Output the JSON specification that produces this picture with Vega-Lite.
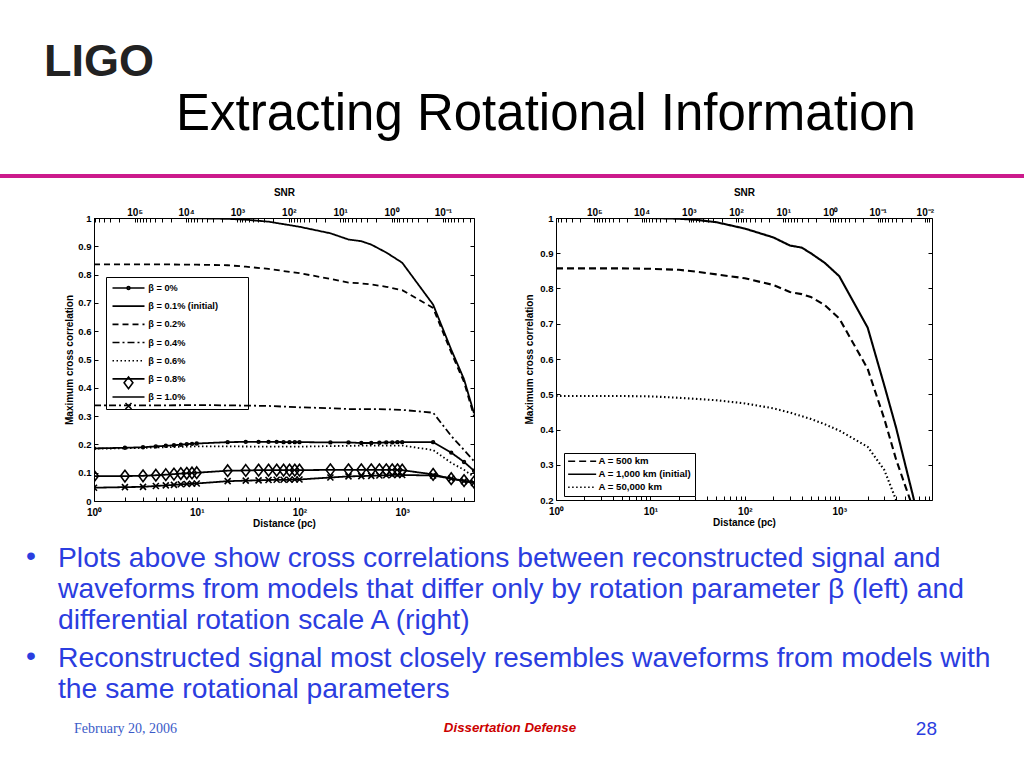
{
  "$schema": "https://vega.github.io/schema/vega-lite/v6.json",
  "background": "white",
  "padding": {"left": 0, "top": 40, "right": 0, "bottom": 30},
  "config": {"view": {"stroke": null}, "font": "Liberation Sans"},
  "title": {"text": "LIGO", "anchor": "start", "dx": 44, "fontSize": 45, "fontWeight": "bold", "font": "Liberation Sans", "color": "#222222", "offset": 4},
  "datasets": {
    "left": [
      {"beta": "β = 0%", "distance": 1, "corr": 0.186}, {"beta": "β = 0%", "distance": 2, "corr": 0.188}, {"beta": "β = 0%", "distance": 3, "corr": 0.19}, {"beta": "β = 0%", "distance": 4, "corr": 0.193}, {"beta": "β = 0%", "distance": 5, "corr": 0.195}, {"beta": "β = 0%", "distance": 6, "corr": 0.197}, {"beta": "β = 0%", "distance": 7, "corr": 0.199}, {"beta": "β = 0%", "distance": 8, "corr": 0.201}, {"beta": "β = 0%", "distance": 9, "corr": 0.202}, {"beta": "β = 0%", "distance": 10, "corr": 0.203},
      {"beta": "β = 0%", "distance": 20, "corr": 0.208}, {"beta": "β = 0%", "distance": 30, "corr": 0.209}, {"beta": "β = 0%", "distance": 40, "corr": 0.209}, {"beta": "β = 0%", "distance": 50, "corr": 0.209}, {"beta": "β = 0%", "distance": 60, "corr": 0.209}, {"beta": "β = 0%", "distance": 70, "corr": 0.208}, {"beta": "β = 0%", "distance": 80, "corr": 0.208}, {"beta": "β = 0%", "distance": 90, "corr": 0.208}, {"beta": "β = 0%", "distance": 100, "corr": 0.208},
      {"beta": "β = 0%", "distance": 200, "corr": 0.207}, {"beta": "β = 0%", "distance": 300, "corr": 0.207}, {"beta": "β = 0%", "distance": 400, "corr": 0.205}, {"beta": "β = 0%", "distance": 500, "corr": 0.205}, {"beta": "β = 0%", "distance": 600, "corr": 0.206}, {"beta": "β = 0%", "distance": 700, "corr": 0.207}, {"beta": "β = 0%", "distance": 800, "corr": 0.207}, {"beta": "β = 0%", "distance": 900, "corr": 0.208}, {"beta": "β = 0%", "distance": 1000, "corr": 0.208},
      {"beta": "β = 0%", "distance": 2000, "corr": 0.208}, {"beta": "β = 0%", "distance": 3000, "corr": 0.171}, {"beta": "β = 0%", "distance": 4000, "corr": 0.138}, {"beta": "β = 0%", "distance": 5000, "corr": 0.107},

      {"beta": "β = 0.1% (initial)", "distance": 1, "corr": 1.0}, {"beta": "β = 0.1% (initial)", "distance": 2, "corr": 1.0}, {"beta": "β = 0.1% (initial)", "distance": 5, "corr": 1.0}, {"beta": "β = 0.1% (initial)", "distance": 10, "corr": 0.999}, {"beta": "β = 0.1% (initial)", "distance": 20, "corr": 0.997}, {"beta": "β = 0.1% (initial)", "distance": 30, "corr": 0.994}, {"beta": "β = 0.1% (initial)", "distance": 50, "corr": 0.987}, {"beta": "β = 0.1% (initial)", "distance": 100, "corr": 0.969}, {"beta": "β = 0.1% (initial)", "distance": 200, "corr": 0.946}, {"beta": "β = 0.1% (initial)", "distance": 300, "corr": 0.924}, {"beta": "β = 0.1% (initial)", "distance": 400, "corr": 0.918}, {"beta": "β = 0.1% (initial)", "distance": 500, "corr": 0.906}, {"beta": "β = 0.1% (initial)", "distance": 700, "corr": 0.878}, {"beta": "β = 0.1% (initial)", "distance": 1000, "corr": 0.842}, {"beta": "β = 0.1% (initial)", "distance": 2000, "corr": 0.694}, {"beta": "β = 0.1% (initial)", "distance": 3000, "corr": 0.535}, {"beta": "β = 0.1% (initial)", "distance": 4000, "corr": 0.43}, {"beta": "β = 0.1% (initial)", "distance": 5000, "corr": 0.31},

      {"beta": "β = 0.2%", "distance": 1, "corr": 0.836}, {"beta": "β = 0.2%", "distance": 2, "corr": 0.836}, {"beta": "β = 0.2%", "distance": 5, "corr": 0.836}, {"beta": "β = 0.2%", "distance": 10, "corr": 0.835}, {"beta": "β = 0.2%", "distance": 20, "corr": 0.833}, {"beta": "β = 0.2%", "distance": 30, "corr": 0.828}, {"beta": "β = 0.2%", "distance": 50, "corr": 0.82}, {"beta": "β = 0.2%", "distance": 100, "corr": 0.805}, {"beta": "β = 0.2%", "distance": 200, "corr": 0.785}, {"beta": "β = 0.2%", "distance": 300, "corr": 0.772}, {"beta": "β = 0.2%", "distance": 400, "corr": 0.769}, {"beta": "β = 0.2%", "distance": 500, "corr": 0.765}, {"beta": "β = 0.2%", "distance": 700, "corr": 0.757}, {"beta": "β = 0.2%", "distance": 1000, "corr": 0.745}, {"beta": "β = 0.2%", "distance": 2000, "corr": 0.682}, {"beta": "β = 0.2%", "distance": 3000, "corr": 0.525}, {"beta": "β = 0.2%", "distance": 4000, "corr": 0.42}, {"beta": "β = 0.2%", "distance": 5000, "corr": 0.3},

      {"beta": "β = 0.4%", "distance": 1, "corr": 0.338}, {"beta": "β = 0.4%", "distance": 2, "corr": 0.338}, {"beta": "β = 0.4%", "distance": 5, "corr": 0.338}, {"beta": "β = 0.4%", "distance": 10, "corr": 0.339}, {"beta": "β = 0.4%", "distance": 20, "corr": 0.338}, {"beta": "β = 0.4%", "distance": 50, "corr": 0.336}, {"beta": "β = 0.4%", "distance": 100, "corr": 0.331}, {"beta": "β = 0.4%", "distance": 200, "corr": 0.328}, {"beta": "β = 0.4%", "distance": 300, "corr": 0.325}, {"beta": "β = 0.4%", "distance": 500, "corr": 0.325}, {"beta": "β = 0.4%", "distance": 700, "corr": 0.324}, {"beta": "β = 0.4%", "distance": 1000, "corr": 0.322}, {"beta": "β = 0.4%", "distance": 2000, "corr": 0.312}, {"beta": "β = 0.4%", "distance": 3000, "corr": 0.23}, {"beta": "β = 0.4%", "distance": 4000, "corr": 0.18}, {"beta": "β = 0.4%", "distance": 5000, "corr": 0.141},

      {"beta": "β = 0.6%", "distance": 1, "corr": 0.185}, {"beta": "β = 0.6%", "distance": 2, "corr": 0.186}, {"beta": "β = 0.6%", "distance": 5, "corr": 0.19}, {"beta": "β = 0.6%", "distance": 10, "corr": 0.193}, {"beta": "β = 0.6%", "distance": 20, "corr": 0.193}, {"beta": "β = 0.6%", "distance": 50, "corr": 0.192}, {"beta": "β = 0.6%", "distance": 100, "corr": 0.192}, {"beta": "β = 0.6%", "distance": 200, "corr": 0.194}, {"beta": "β = 0.6%", "distance": 300, "corr": 0.195}, {"beta": "β = 0.6%", "distance": 500, "corr": 0.196}, {"beta": "β = 0.6%", "distance": 700, "corr": 0.196}, {"beta": "β = 0.6%", "distance": 1000, "corr": 0.196}, {"beta": "β = 0.6%", "distance": 2000, "corr": 0.18}, {"beta": "β = 0.6%", "distance": 3000, "corr": 0.135}, {"beta": "β = 0.6%", "distance": 4000, "corr": 0.11}, {"beta": "β = 0.6%", "distance": 5000, "corr": 0.085},

      {"beta": "β = 0.8%", "distance": 1, "corr": 0.088}, {"beta": "β = 0.8%", "distance": 2, "corr": 0.088}, {"beta": "β = 0.8%", "distance": 3, "corr": 0.089}, {"beta": "β = 0.8%", "distance": 4, "corr": 0.091}, {"beta": "β = 0.8%", "distance": 5, "corr": 0.093}, {"beta": "β = 0.8%", "distance": 6, "corr": 0.095}, {"beta": "β = 0.8%", "distance": 7, "corr": 0.097}, {"beta": "β = 0.8%", "distance": 8, "corr": 0.098}, {"beta": "β = 0.8%", "distance": 9, "corr": 0.099}, {"beta": "β = 0.8%", "distance": 10, "corr": 0.1},
      {"beta": "β = 0.8%", "distance": 20, "corr": 0.107}, {"beta": "β = 0.8%", "distance": 30, "corr": 0.108}, {"beta": "β = 0.8%", "distance": 40, "corr": 0.109}, {"beta": "β = 0.8%", "distance": 50, "corr": 0.109}, {"beta": "β = 0.8%", "distance": 60, "corr": 0.109}, {"beta": "β = 0.8%", "distance": 70, "corr": 0.109}, {"beta": "β = 0.8%", "distance": 80, "corr": 0.109}, {"beta": "β = 0.8%", "distance": 90, "corr": 0.109}, {"beta": "β = 0.8%", "distance": 100, "corr": 0.109},
      {"beta": "β = 0.8%", "distance": 200, "corr": 0.11}, {"beta": "β = 0.8%", "distance": 300, "corr": 0.11}, {"beta": "β = 0.8%", "distance": 400, "corr": 0.11}, {"beta": "β = 0.8%", "distance": 500, "corr": 0.11}, {"beta": "β = 0.8%", "distance": 600, "corr": 0.11}, {"beta": "β = 0.8%", "distance": 700, "corr": 0.11}, {"beta": "β = 0.8%", "distance": 800, "corr": 0.11}, {"beta": "β = 0.8%", "distance": 900, "corr": 0.11}, {"beta": "β = 0.8%", "distance": 1000, "corr": 0.109},
      {"beta": "β = 0.8%", "distance": 2000, "corr": 0.094}, {"beta": "β = 0.8%", "distance": 3000, "corr": 0.079}, {"beta": "β = 0.8%", "distance": 4000, "corr": 0.072}, {"beta": "β = 0.8%", "distance": 5000, "corr": 0.067},

      {"beta": "β = 1.0%", "distance": 1, "corr": 0.047}, {"beta": "β = 1.0%", "distance": 2, "corr": 0.049}, {"beta": "β = 1.0%", "distance": 3, "corr": 0.05}, {"beta": "β = 1.0%", "distance": 4, "corr": 0.053}, {"beta": "β = 1.0%", "distance": 5, "corr": 0.055}, {"beta": "β = 1.0%", "distance": 6, "corr": 0.057}, {"beta": "β = 1.0%", "distance": 7, "corr": 0.059}, {"beta": "β = 1.0%", "distance": 8, "corr": 0.06}, {"beta": "β = 1.0%", "distance": 9, "corr": 0.061}, {"beta": "β = 1.0%", "distance": 10, "corr": 0.062},
      {"beta": "β = 1.0%", "distance": 20, "corr": 0.07}, {"beta": "β = 1.0%", "distance": 30, "corr": 0.072}, {"beta": "β = 1.0%", "distance": 40, "corr": 0.073}, {"beta": "β = 1.0%", "distance": 50, "corr": 0.074}, {"beta": "β = 1.0%", "distance": 60, "corr": 0.075}, {"beta": "β = 1.0%", "distance": 70, "corr": 0.075}, {"beta": "β = 1.0%", "distance": 80, "corr": 0.075}, {"beta": "β = 1.0%", "distance": 90, "corr": 0.076}, {"beta": "β = 1.0%", "distance": 100, "corr": 0.076},
      {"beta": "β = 1.0%", "distance": 200, "corr": 0.083}, {"beta": "β = 1.0%", "distance": 300, "corr": 0.087}, {"beta": "β = 1.0%", "distance": 400, "corr": 0.088}, {"beta": "β = 1.0%", "distance": 500, "corr": 0.089}, {"beta": "β = 1.0%", "distance": 600, "corr": 0.09}, {"beta": "β = 1.0%", "distance": 700, "corr": 0.091}, {"beta": "β = 1.0%", "distance": 800, "corr": 0.092}, {"beta": "β = 1.0%", "distance": 900, "corr": 0.092}, {"beta": "β = 1.0%", "distance": 1000, "corr": 0.092},
      {"beta": "β = 1.0%", "distance": 2000, "corr": 0.09}, {"beta": "β = 1.0%", "distance": 3000, "corr": 0.079}, {"beta": "β = 1.0%", "distance": 4000, "corr": 0.07}, {"beta": "β = 1.0%", "distance": 5000, "corr": 0.064}
    ],
    "right": [
      {"model": "A = 500 km", "distance": 1, "corr": 0.857}, {"model": "A = 500 km", "distance": 2, "corr": 0.857}, {"model": "A = 500 km", "distance": 5, "corr": 0.857}, {"model": "A = 500 km", "distance": 10, "corr": 0.856}, {"model": "A = 500 km", "distance": 20, "corr": 0.853}, {"model": "A = 500 km", "distance": 30, "corr": 0.848}, {"model": "A = 500 km", "distance": 50, "corr": 0.84}, {"model": "A = 500 km", "distance": 100, "corr": 0.829}, {"model": "A = 500 km", "distance": 200, "corr": 0.81}, {"model": "A = 500 km", "distance": 300, "corr": 0.79}, {"model": "A = 500 km", "distance": 400, "corr": 0.784}, {"model": "A = 500 km", "distance": 500, "corr": 0.776}, {"model": "A = 500 km", "distance": 700, "corr": 0.753}, {"model": "A = 500 km", "distance": 1000, "corr": 0.715}, {"model": "A = 500 km", "distance": 2000, "corr": 0.572}, {"model": "A = 500 km", "distance": 3000, "corr": 0.43}, {"model": "A = 500 km", "distance": 4000, "corr": 0.315}, {"model": "A = 500 km", "distance": 5000, "corr": 0.24}, {"model": "A = 500 km", "distance": 6000, "corr": 0.18},
      {"model": "A = 1,000 km (initial)", "distance": 1, "corr": 1.0}, {"model": "A = 1,000 km (initial)", "distance": 2, "corr": 1.0}, {"model": "A = 1,000 km (initial)", "distance": 5, "corr": 1.0}, {"model": "A = 1,000 km (initial)", "distance": 10, "corr": 1.0}, {"model": "A = 1,000 km (initial)", "distance": 20, "corr": 0.998}, {"model": "A = 1,000 km (initial)", "distance": 30, "corr": 0.995}, {"model": "A = 1,000 km (initial)", "distance": 50, "corr": 0.988}, {"model": "A = 1,000 km (initial)", "distance": 100, "corr": 0.97}, {"model": "A = 1,000 km (initial)", "distance": 200, "corr": 0.945}, {"model": "A = 1,000 km (initial)", "distance": 300, "corr": 0.922}, {"model": "A = 1,000 km (initial)", "distance": 400, "corr": 0.916}, {"model": "A = 1,000 km (initial)", "distance": 500, "corr": 0.9}, {"model": "A = 1,000 km (initial)", "distance": 700, "corr": 0.873}, {"model": "A = 1,000 km (initial)", "distance": 1000, "corr": 0.835}, {"model": "A = 1,000 km (initial)", "distance": 2000, "corr": 0.689}, {"model": "A = 1,000 km (initial)", "distance": 3000, "corr": 0.525}, {"model": "A = 1,000 km (initial)", "distance": 4000, "corr": 0.405}, {"model": "A = 1,000 km (initial)", "distance": 5000, "corr": 0.3}, {"model": "A = 1,000 km (initial)", "distance": 6000, "corr": 0.215}, {"model": "A = 1,000 km (initial)", "distance": 7000, "corr": 0.14},
      {"model": "A = 50,000 km", "distance": 1, "corr": 0.495}, {"model": "A = 50,000 km", "distance": 2, "corr": 0.495}, {"model": "A = 50,000 km", "distance": 5, "corr": 0.495}, {"model": "A = 50,000 km", "distance": 10, "corr": 0.494}, {"model": "A = 50,000 km", "distance": 20, "corr": 0.49}, {"model": "A = 50,000 km", "distance": 50, "corr": 0.483}, {"model": "A = 50,000 km", "distance": 100, "corr": 0.474}, {"model": "A = 50,000 km", "distance": 200, "corr": 0.46}, {"model": "A = 50,000 km", "distance": 300, "corr": 0.448}, {"model": "A = 50,000 km", "distance": 500, "corr": 0.43}, {"model": "A = 50,000 km", "distance": 700, "corr": 0.415}, {"model": "A = 50,000 km", "distance": 1000, "corr": 0.397}, {"model": "A = 50,000 km", "distance": 2000, "corr": 0.351}, {"model": "A = 50,000 km", "distance": 3000, "corr": 0.285}, {"model": "A = 50,000 km", "distance": 4000, "corr": 0.2}, {"model": "A = 50,000 km", "distance": 5000, "corr": 0.14}
    ]
  },
  "spacing": 5,
  "vconcat": [
    {
      "width": 1024, "height": 4,
      "view": {"fill": "#cc1a8c", "stroke": null},
      "title": {"text": "Extracting Rotational Information", "anchor": "start", "dx": 176, "fontSize": 51, "fontWeight": "normal", "font": "Liberation Sans", "color": "black", "offset": 29},
      "data": {"values": [{}]},
      "mark": {"type": "text", "text": " "}
    },
    {
      "spacing": 46,
      "resolve": {"scale": {"strokeDash": "independent", "shape": "independent"}, "legend": {"strokeDash": "independent", "shape": "independent"}},
      "hconcat": [
        {
          "width": 17, "height": 1,
          "data": {"values": [{}]},
          "mark": {"type": "text", "text": " "}
        },
        {
          "width": 380, "height": 283,
          "view": {"stroke": "black", "strokeWidth": 1},
          "data": {"name": "left"},
          "resolve": {"scale": {"x": "independent", "y": "independent"}},
          "layer": [
            {
              "mark": {"type": "line", "clip": true, "color": "black", "strokeWidth": 1.8},
              "encoding": {
                "x": {"field": "distance", "type": "quantitative", "scale": {"type": "log", "domain": [1, 5000], "nice": false},
                  "axis": {"orient": "bottom", "title": "Distance (pc)", "values": [1,2,3,4,5,6,7,8,9,10,20,30,40,50,60,70,80,90,100,200,300,400,500,600,700,800,900,1000,2000,3000,4000,5000],
                    "labelExpr": "abs(log(datum.value)/LN10 - round(log(datum.value)/LN10)) < 0.001 ? '10' + ['⁰','¹','²','³','⁴'][round(log(datum.value)/LN10)] : ''",
                    "tickSize": -4, "tickColor": "black", "labelPadding": 10, "labelFontSize": 10, "labelFontWeight": "bold", "labelColor": "black", "labelOverlap": false, "labelFlush": false, "domain": false, "grid": false, "titleFontSize": 10, "titleFontWeight": "bold", "titleColor": "black", "titlePadding": 1}},
                "y": {"field": "corr", "type": "quantitative", "scale": {"domain": [0, 1], "nice": false, "zero": false},
                  "axis": {"orient": "left", "title": "Maximum cross correlation", "values": [0,0.1,0.2,0.3,0.4,0.5,0.6,0.7,0.8,0.9,1], "format": "~g",
                    "tickSize": -4, "tickColor": "black", "labelPadding": 7, "labelFontSize": 9.5, "labelFontWeight": "bold", "labelColor": "black", "labelOverlap": false, "domain": false, "grid": false,
                    "minExtent": 30, "maxExtent": 30, "titleX": -25, "titleBaseline": "middle", "titlePadding": 0, "titleFontSize": 10, "titleFontWeight": "bold", "titleColor": "black"}},
                "strokeDash": {"field": "beta", "type": "nominal",
                  "scale": {"domain": ["β = 0%", "β = 0.1% (initial)", "β = 0.2%", "β = 0.4%", "β = 0.6%", "β = 0.8%", "β = 1.0%"], "range": [[1,0],[1,0],[6,4],[7,3,2,3],[1.5,2.5],[1,0],[1,0]]},
                  "legend": {"title": "MMM", "titleOrient": "right", "titleColor": "transparent", "titleFontSize": 9.5, "titlePadding": 0,
                    "orient": "none", "direction": "vertical", "legendX": 12, "legendY": 59, "padding": 6, "rowPadding": 7.17, "symbolType": "M-4,0H4", "symbolSize": 64, "symbolStrokeWidth": 1.6, "symbolOffset": 11.5, "labelOffset": 14.8, "labelFontSize": 9.2, "labelFontWeight": "bold", "labelColor": "black", "symbolStrokeColor": "black", "symbolFillColor": "transparent", "strokeColor": "black", "fillColor": "transparent"}}
              }
            },
            {
              "mark": {"type": "point", "filled": false, "clip": true, "color": "black", "strokeWidth": 1.6, "size": 64, "opacity": 1},
              "encoding": {
                "x": {"field": "distance", "type": "quantitative", "scale": {"type": "log", "domain": [1, 5000], "nice": false}, "axis": null},
                "y": {"field": "corr", "type": "quantitative", "scale": {"domain": [0, 1], "nice": false, "zero": false}, "axis": null},
                "shape": {"field": "beta", "type": "nominal",
                  "scale": {"range": ["M-0.35,0A0.35,0.35 0 1,0 0.35,0A0.35,0.35 0 1,0 -0.35,0Z", "M0,0", "M0,0", "M0,0", "M0,0", "M0,-1.45L1.1,0L0,1.45L-1.1,0Z", "M-0.75,-0.75L0.75,0.75M-0.75,0.75L0.75,-0.75"]},
                  "legend": {"title": null, "orient": "none", "direction": "vertical", "legendX": 12, "legendY": 59, "padding": 6, "rowPadding": 7.17, "symbolSize": 64, "symbolStrokeWidth": 1.6, "symbolOffset": 11.5, "labelOffset": 14.8, "labelFontSize": 9.2, "labelFontWeight": "bold", "labelColor": "transparent", "symbolStrokeColor": "black", "symbolFillColor": "transparent", "symbolOpacity": 1, "strokeColor": "transparent", "fillColor": "transparent"}}
              }
            },
            {
              "mark": {"type": "point", "opacity": 0},
              "encoding": {
                "x": {"field": "distance", "type": "quantitative", "scale": {"type": "log", "domain": [1, 5000], "nice": false},
                  "axis": {"orient": "top", "title": "SNR",
                    "values": [1.017,1.114,1.245,1.438,1.761,2.490,2.625,2.784,2.976,3.215,3.521,3.937,4.546,5.568,7.874,8.300,8.804,9.411,10.17,11.14,12.45,14.38,17.61,24.90,26.25,27.84,29.76,32.15,35.21,39.37,45.46,55.68,78.74,83.00,88.04,94.11,101.7,111.4,124.5,143.8,176.1,249.0,262.5,278.4,297.6,321.5,352.1,393.7,454.6,556.8,787.4,830.0,880.4,941.1,1017,1114,1245,1438,1761,2490,2625,2784,2976,3215,3521,3937,4546],
                    "labelExpr": "abs(log(6.2e5/(datum.value*datum.value))/LN10 - round(log(6.2e5/(datum.value*datum.value))/LN10)) < 0.01 ? '10' + ['⁻²','⁻¹','⁰','¹','²','³','⁴','⁵'][round(log(6.2e5/(datum.value*datum.value))/LN10) + 2] : ''",
                    "tickSize": -4, "tickColor": "black", "labelPadding": 5, "labelFontSize": 10, "labelFontWeight": "bold", "labelColor": "black", "labelOverlap": false, "labelFlush": false, "domain": false, "grid": false, "titleFontSize": 10, "titleFontWeight": "bold", "titleColor": "black", "titlePadding": 10}},
                "y": {"field": "corr", "type": "quantitative", "scale": {"domain": [0, 1], "nice": false, "zero": false},
                  "axis": {"orient": "right", "title": null, "labels": false, "values": [0,0.1,0.2,0.3,0.4,0.5,0.6,0.7,0.8,0.9,1], "tickSize": -4, "tickColor": "black", "domain": false, "grid": false, "minExtent": 0, "maxExtent": 0}}
              }
            }
          ]
        },
        {
          "width": 376, "height": 282,
          "view": {"stroke": "black", "strokeWidth": 1},
          "data": {"name": "right"},
          "resolve": {"scale": {"x": "independent", "y": "independent"}},
          "layer": [
            {
              "mark": {"type": "line", "clip": true, "color": "black", "strokeWidth": 2.1},
              "encoding": {
                "x": {"field": "distance", "type": "quantitative", "scale": {"type": "log", "domain": [1, 9600], "nice": false},
                  "axis": {"orient": "bottom", "title": "Distance (pc)", "values": [1,2,3,4,5,6,7,8,9,10,20,30,40,50,60,70,80,90,100,200,300,400,500,600,700,800,900,1000,2000,3000,4000,5000,6000,7000,8000,9000],
                    "labelExpr": "abs(log(datum.value)/LN10 - round(log(datum.value)/LN10)) < 0.001 ? '10' + ['⁰','¹','²','³','⁴'][round(log(datum.value)/LN10)] : ''",
                    "tickSize": -4, "tickColor": "black", "labelPadding": 10, "labelFontSize": 10, "labelFontWeight": "bold", "labelColor": "black", "labelOverlap": false, "labelFlush": false, "domain": false, "grid": false, "titleFontSize": 10, "titleFontWeight": "bold", "titleColor": "black", "titlePadding": 1}},
                "y": {"field": "corr", "type": "quantitative", "scale": {"domain": [0.2, 1], "nice": false, "zero": false},
                  "axis": {"orient": "left", "title": "Maximum cross correlation", "values": [0.2,0.3,0.4,0.5,0.6,0.7,0.8,0.9,1], "format": "~g",
                    "tickSize": -4, "tickColor": "black", "labelPadding": 7, "labelFontSize": 9.5, "labelFontWeight": "bold", "labelColor": "black", "labelOverlap": false, "domain": false, "grid": false,
                    "minExtent": 30, "maxExtent": 30, "titleX": -26.5, "titleBaseline": "middle", "titlePadding": 0, "titleFontSize": 10, "titleFontWeight": "bold", "titleColor": "black"}},
                "strokeDash": {"field": "model", "type": "nominal",
                  "scale": {"domain": ["A = 500 km", "A = 1,000 km (initial)", "A = 50,000 km"], "range": [[7,4],[1,0],[1.5,2.5]]},
                  "legend": {"title": null, "orient": "none", "direction": "vertical", "legendX": 8, "legendY": 235, "padding": 3.5, "rowPadding": 2, "symbolType": "M-4,0H4", "symbolSize": 49, "symbolStrokeWidth": 1.6, "symbolOffset": 9.85, "labelOffset": 11.6, "labelFontSize": 9.6, "labelFontWeight": "bold", "labelColor": "black", "symbolStrokeColor": "black", "symbolFillColor": "transparent", "strokeColor": "black", "fillColor": "white"}}
              }
            },
            {
              "mark": {"type": "point", "opacity": 0},
              "encoding": {
                "x": {"field": "distance", "type": "quantitative", "scale": {"type": "log", "domain": [1, 9600], "nice": false},
                  "axis": {"orient": "top", "title": "SNR",
                    "values": [1.041,1.140,1.275,1.472,1.803,2.550,2.687,2.850,3.047,3.291,3.605,4.031,4.655,5.701,8.062,8.500,9.015,9.638,10.41,11.40,12.75,14.72,18.03,25.50,26.87,28.50,30.47,32.91,36.05,40.31,46.55,57.01,80.62,85.00,90.15,96.38,104.1,114.0,127.5,147.2,180.3,255.0,268.7,285.0,304.7,329.1,360.5,403.1,465.5,570.1,806.2,850.0,901.5,963.8,1041,1140,1275,1472,1803,2550,2687,2850,3047,3291,3605,4031,4655,5701,8062,8498,9014],
                    "labelExpr": "abs(log(6.5e5/(datum.value*datum.value))/LN10 - round(log(6.5e5/(datum.value*datum.value))/LN10)) < 0.01 ? '10' + ['⁻²','⁻¹','⁰','¹','²','³','⁴','⁵'][round(log(6.5e5/(datum.value*datum.value))/LN10) + 2] : ''",
                    "tickSize": -4, "tickColor": "black", "labelPadding": 5, "labelFontSize": 10, "labelFontWeight": "bold", "labelColor": "black", "labelOverlap": false, "labelFlush": false, "domain": false, "grid": false, "titleFontSize": 10, "titleFontWeight": "bold", "titleColor": "black", "titlePadding": 10}},
                "y": {"field": "corr", "type": "quantitative", "scale": {"domain": [0.2, 1], "nice": false, "zero": false},
                  "axis": {"orient": "right", "title": null, "labels": false, "values": [0.2,0.3,0.4,0.5,0.6,0.7,0.8,0.9,1], "tickSize": -4, "tickColor": "black", "domain": false, "grid": false, "minExtent": 0, "maxExtent": 0}}
              }
            }
          ]
        }
      ]
    },
    {
      "width": 1024, "height": 100,
      "layer": [
        {
          "data": {"values": [
            {"item": 1, "text": ["Plots above show cross correlations between reconstructed signal and", "waveforms from models that differ only by rotation parameter β (left) and", "differential rotation scale A (right)"]},
            {"item": 2, "text": ["Reconstructed signal most closely resembles waveforms from models with", "the same rotational parameters"]}
          ]},
          "mark": {"type": "text", "align": "left", "baseline": "alphabetic", "fontSize": 28.3, "lineHeight": 31, "color": "#2b3de0", "dy": 33, "font": "Liberation Sans"},
          "encoding": {
            "x": {"value": 58},
            "y": {"field": "item", "type": "ordinal", "scale": {"type": "point", "padding": 0}, "axis": null},
            "text": {"field": "text"}
          }
        },
        {
          "data": {"values": [{"item": 1}, {"item": 2}]},
          "mark": {"type": "text", "align": "center", "baseline": "alphabetic", "fontSize": 28.3, "color": "#2b3de0", "dy": 31, "text": "•", "font": "Liberation Sans"},
          "encoding": {
            "x": {"value": 31},
            "y": {"field": "item", "type": "ordinal", "scale": {"type": "point", "padding": 0}, "axis": null}
          }
        },
        {
          "data": {"values": [{"label": "February 20, 2006"}]},
          "mark": {"type": "text", "align": "left", "baseline": "alphabetic", "font": "Liberation Serif", "fontSize": 14, "color": "#3b5bc8"},
          "encoding": {"x": {"value": 74}, "y": {"value": 199}, "text": {"field": "label"}}
        },
        {
          "data": {"values": [{"label": "Dissertation Defense"}]},
          "mark": {"type": "text", "align": "center", "baseline": "alphabetic", "font": "Liberation Sans", "fontSize": 13.3, "fontWeight": "bold", "fontStyle": "italic", "color": "#cc0000"},
          "encoding": {"x": {"value": 510}, "y": {"value": 198}, "text": {"field": "label"}}
        },
        {
          "data": {"values": [{"label": "28"}]},
          "mark": {"type": "text", "align": "right", "baseline": "alphabetic", "font": "Liberation Sans", "fontSize": 19, "color": "#2b3de0"},
          "encoding": {"x": {"value": 937}, "y": {"value": 201}, "text": {"field": "label"}}
        }
      ]
    }
  ]
}
